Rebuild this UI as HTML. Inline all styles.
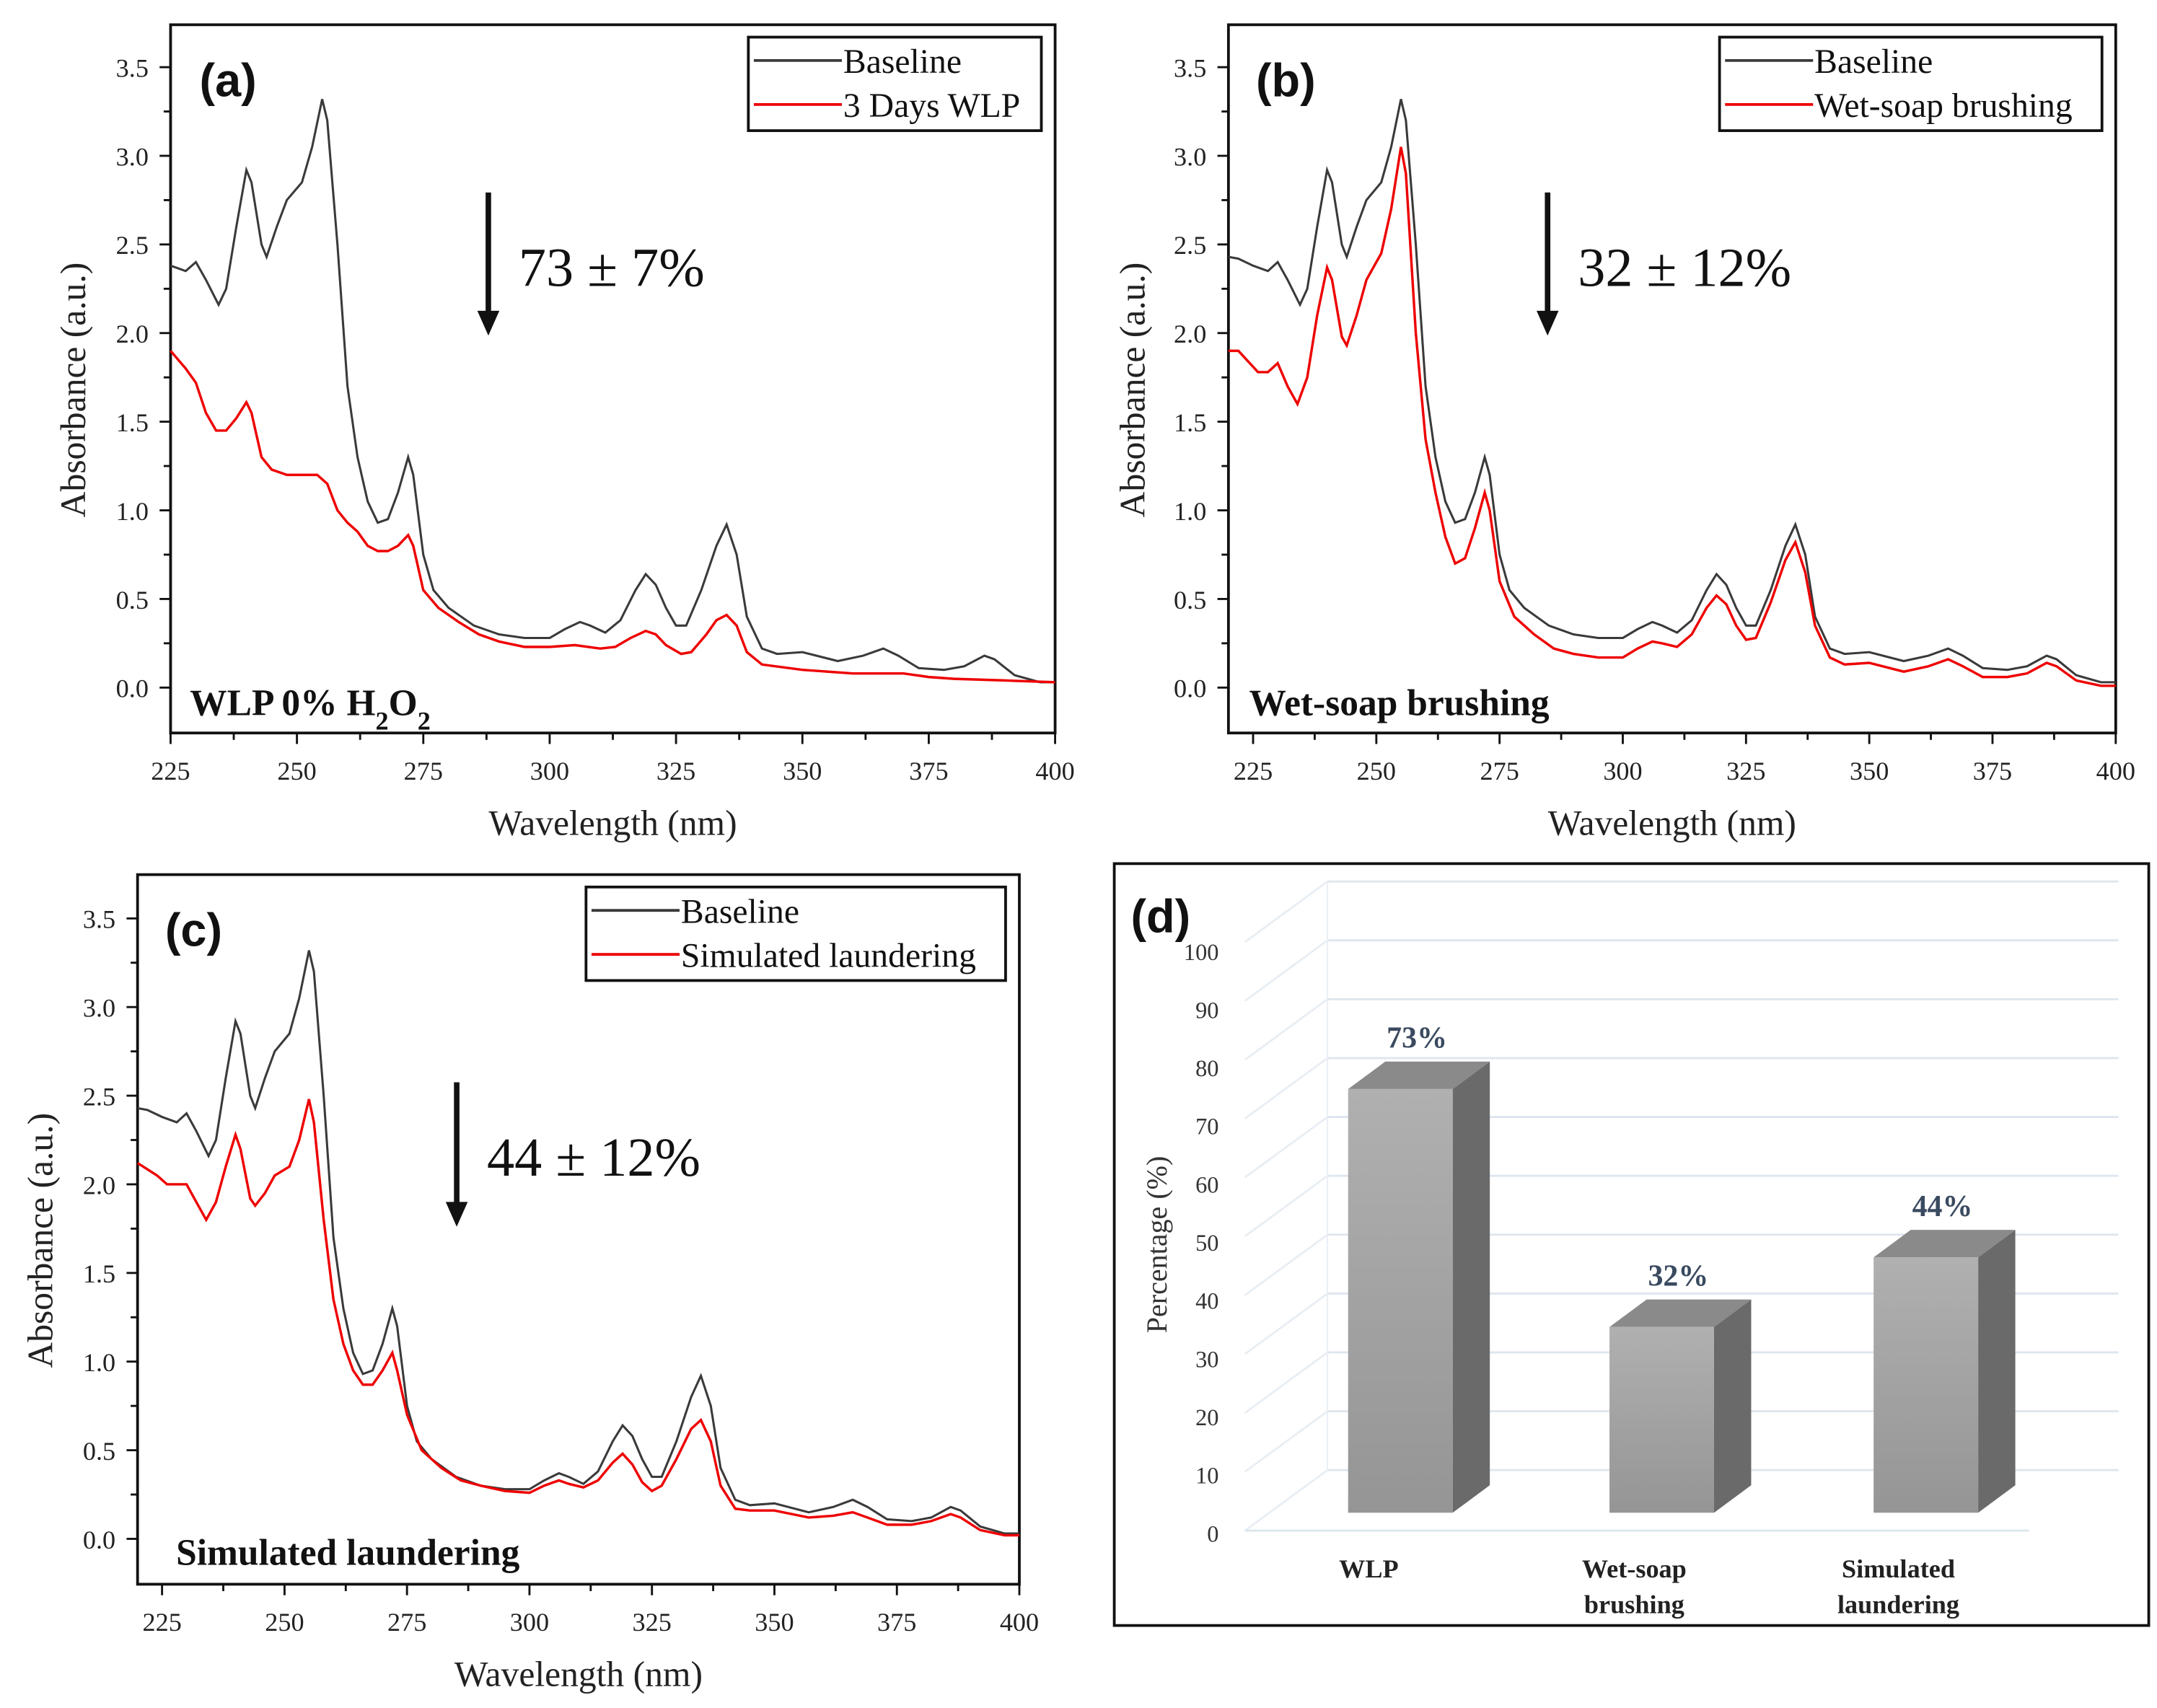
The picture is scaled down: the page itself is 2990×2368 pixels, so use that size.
<!DOCTYPE html>
<html><head><meta charset="utf-8">
<style>
html,body{margin:0;padding:0;background:#fff;}
svg{display:block;}
.tk{font-family:"Liberation Serif",serif;font-size:19px;fill:#222;}
.ax{font-family:"Liberation Serif",serif;font-size:26px;fill:#222;}
.lg{font-family:"Liberation Serif",serif;font-size:25px;fill:#111;}
.pl{font-family:"Liberation Sans",sans-serif;font-size:34px;font-weight:bold;fill:#111;}
.ann{font-family:"Liberation Serif",serif;font-size:40px;fill:#111;}
.bt{font-family:"Liberation Serif",serif;font-size:27px;font-weight:bold;fill:#111;}
.dt{font-family:"Liberation Serif",serif;font-size:17px;fill:#333;}
.dl{font-family:"Liberation Serif",serif;font-size:22px;font-weight:bold;fill:#3a4a60;}
.dc{font-family:"Liberation Serif",serif;font-size:19px;font-weight:bold;fill:#222;}
</style></head>
<body>
<svg id="fig" width="2990" height="2368" viewBox="0 0 1568 1242" preserveAspectRatio="none" xmlns="http://www.w3.org/2000/svg">
<rect width="1568" height="1242" fill="#fff"/>
</svg>
<script>
// ---- spectra data (wavelength nm, absorbance a.u.) ----
const baseWl = [220,222,225,228,230,232,234.5,236,238,240,241,243,244,246,248,251,253,255,256,258,260,262,264,266,268,270,272,273,275,277,280,285,290,295,300,303,306,308,311,314,317,319,321,323,325,327,330,333,335,337,339,342,345,350,357,362,366,369,373,378,382,386,388,392,397,400];
const baseAbs = [2.43,2.42,2.38,2.35,2.40,2.30,2.16,2.25,2.6,2.92,2.85,2.5,2.43,2.6,2.75,2.85,3.05,3.32,3.2,2.5,1.7,1.3,1.05,0.93,0.95,1.1,1.3,1.2,0.75,0.55,0.45,0.35,0.3,0.28,0.28,0.33,0.37,0.35,0.31,0.38,0.55,0.64,0.58,0.45,0.35,0.35,0.55,0.8,0.92,0.75,0.4,0.22,0.19,0.2,0.15,0.18,0.22,0.18,0.11,0.1,0.12,0.18,0.16,0.07,0.03,0.03];
const wlpWl = [225,228,230,232,234,236,238,240,241,243,245,248,252,254,256,258,260,262,264,266,268,270,272,273,275,278,282,286,290,295,300,305,310,313,316,319,321,323,326,328,331,333,335,337,339,342,350,360,370,375,380,390,400];
const wlpAbs = [1.9,1.8,1.72,1.55,1.45,1.45,1.52,1.61,1.55,1.3,1.23,1.2,1.2,1.2,1.15,1.0,0.93,0.88,0.8,0.77,0.77,0.8,0.86,0.8,0.55,0.45,0.37,0.3,0.26,0.23,0.23,0.24,0.22,0.23,0.28,0.32,0.3,0.24,0.19,0.2,0.3,0.38,0.41,0.35,0.2,0.13,0.1,0.08,0.08,0.06,0.05,0.04,0.03];
const wsWl = [220,222,226,228,230,232,234,236,238,240,241,243,244,246,248,251,253,255,256,258,260,262,264,266,268,270,272,273,275,278,282,286,290,295,300,303,306,308,311,314,317,319,321,323,325,327,330,333,335,337,339,342,345,350,357,362,366,369,373,378,382,386,388,392,397,400];
const wsAbs = [1.9,1.9,1.78,1.78,1.83,1.7,1.6,1.75,2.1,2.37,2.3,1.98,1.93,2.1,2.3,2.45,2.7,3.05,2.9,2.0,1.4,1.1,0.85,0.7,0.73,0.9,1.1,1.0,0.6,0.4,0.3,0.22,0.19,0.17,0.17,0.22,0.26,0.25,0.23,0.3,0.45,0.52,0.47,0.35,0.27,0.28,0.48,0.72,0.82,0.65,0.35,0.17,0.13,0.14,0.09,0.12,0.16,0.12,0.06,0.06,0.08,0.14,0.12,0.04,0.01,0.01];
const slWl = [220,224,226,228,230,232,234,236,238,240,241,243,244,246,248,251,253,255,256,258,260,262,264,266,268,270,272,273,275,278,282,286,290,295,300,303,306,308,311,314,317,319,321,323,325,327,330,333,335,337,339,342,345,350,357,362,366,369,373,378,382,386,388,392,397,400];
const slAbs = [2.12,2.05,2.0,2.0,2.0,1.9,1.8,1.9,2.1,2.28,2.2,1.92,1.88,1.95,2.05,2.1,2.25,2.48,2.35,1.8,1.35,1.1,0.95,0.87,0.87,0.95,1.05,0.95,0.7,0.5,0.4,0.33,0.3,0.27,0.26,0.3,0.33,0.31,0.29,0.33,0.43,0.48,0.42,0.32,0.27,0.3,0.45,0.62,0.67,0.55,0.3,0.17,0.16,0.16,0.12,0.13,0.15,0.12,0.08,0.08,0.1,0.14,0.12,0.05,0.02,0.02];
const xTicks = [225,250,275,300,325,350,375,400];
const yTicks = [0.0,0.5,1.0,1.5,2.0,2.5,3.0,3.5];
// ---- bar data ----
const barCats = [["WLP"],["Wet-soap","brushing"],["Simulated","laundering"]];
const barVals = [73,32,44];
const barLabels = ["73%","32%","44%"];
const pctTicks = [0,10,20,30,40,50,60,70,80,90,100];

const NS="http://www.w3.org/2000/svg";
const svg=document.getElementById('fig');
function mk(tag,attrs,parent){const e=document.createElementNS(NS,tag);for(const k in attrs)e.setAttribute(k,attrs[k]);(parent||svg).appendChild(e);return e;}
function txt(s,attrs,parent){const e=mk('text',attrs,parent);e.textContent=s;return e;}

function spectrum(o){
  const g=mk('g',{});
  
  
  const X=w=>o.x0+(w-o.w0)/(400-o.w0)*(o.x1-o.x0);
  const Y=v=>o.y0-v*o.ys;
  const fr=mk('rect',{x:o.x0,y:o.top,width:o.x1-o.x0,height:o.bot-o.top,fill:'none',stroke:'#111','stroke-width':2},g);
  
  
  for(let w=225; w<=400; w+=12.5){
    const maj=(w-225)%25===0;
    mk('line',{x1:X(w),x2:X(w),y1:o.bot,y2:o.bot+(maj?8:5),stroke:'#111','stroke-width':1.5},g);
  }
  xTicks.forEach(w=>{
    const t=txt(String(w),{x:X(w),y:o.bot+34,'text-anchor':'middle',class:'tk'},g);
    
    
  });
  for(let v=0; v<=3.51; v+=0.25){
    const maj=Math.round(v*4)%2===0;
    mk('line',{x1:o.x0,x2:o.x0-(maj?8:5),y1:Y(v),y2:Y(v),stroke:'#111','stroke-width':1.5},g);
  }
  yTicks.forEach(v=>{
    const t=txt(v.toFixed(1),{x:o.x0-16,y:Y(v)+7,'text-anchor':'end',class:'tk'},g);
    
    
  });
  const xt=txt('Wavelength (nm)',{x:(o.x0+o.x1)/2,y:o.bot+74,'text-anchor':'middle',class:'ax'},g);
  
  
  const yc=(o.top+o.bot)/2+8;
  const yt=txt('Absorbance (a.u.)',{x:0,y:0,'text-anchor':'middle',class:'ax',transform:`translate(${o.ytx},${yc}) rotate(-90)`},g);
  
  
  const path=(wl,ab)=>wl.filter(w=>w>=o.w0).map((w,i)=>{const j=wl.indexOf(w);return (i?'L':'M')+X(w).toFixed(1)+','+Y(ab[j]).toFixed(1);}).join('');
  const b=mk('path',{d:path(baseWl,baseAbs),fill:'none',stroke:'#3a3a3a','stroke-width':1.6},g);
  
  
  const r=mk('path',{d:path(o.rw,o.ra),fill:'none',stroke:'#ee0000','stroke-width':1.8},g);
  
  
  const lg=mk('g',{},g);
  
  
  mk('rect',{x:o.lx,y:o.ly,width:o.lw,height:68,fill:'#fff',stroke:'#111','stroke-width':2},lg);
  mk('line',{x1:o.lx+4,x2:o.lx+68,y1:o.ly+17,y2:o.ly+17,stroke:'#3a3a3a','stroke-width':2},lg);
  mk('line',{x1:o.lx+4,x2:o.lx+68,y1:o.ly+49,y2:o.ly+49,stroke:'#ee0000','stroke-width':2},lg);
  const l1=txt('Baseline',{x:o.lx+69,y:o.ly+26,class:'lg'},lg);
  
  
  const l2=txt(o.leg,{x:o.lx+69,y:o.ly+58,class:'lg'},lg);
  
  
  const pl=txt(o.pl,{x:o.plx,y:o.ply,class:'pl'},g);
  
  
  const ar=mk('g',{},g);
  
  
  mk('line',{x1:o.ax,x2:o.ax,y1:o.ay0,y2:o.ay1-14,stroke:'#111','stroke-width':4},ar);
  mk('polygon',{points:`${o.ax-8},${o.ay1-16} ${o.ax+8},${o.ay1-16} ${o.ax},${o.ay1+2}`,fill:'#111'},ar);
  const an=txt(o.ann,{x:o.ax+22,y:o.ay0+68,class:'ann'},g);
  
  
  const bt=mk('text',{x:o.btx,y:o.bty,class:'bt'},g);
  
  
  bt.innerHTML=o.bt;
}

spectrum({name:'panel-a',x0:124,x1:767,w0:225,top:18,bot:533,y0:500,ys:128.9,ytx:62,rw:wlpWl,ra:wlpAbs,
  lx:544,ly:27,lw:213,leg:'3 Days WLP',pl:'(a)',plx:145,ply:70,ax:355,ay0:140,ay1:242,ann:'73 ± 7%',
  btx:138,bty:520,bt:'WLP 0% H<tspan baseline-shift="sub" font-size="19">2</tspan>O<tspan baseline-shift="sub" font-size="19">2</tspan>'});
spectrum({name:'panel-b',x0:893,x1:1538,w0:220,top:18,bot:533,y0:500,ys:128.9,ytx:832,rw:wsWl,ra:wsAbs,
  lx:1250,ly:27,lw:278,leg:'Wet-soap brushing',pl:'(b)',plx:913,ply:70,ax:1125,ay0:140,ay1:242,ann:'32 ± 12%',
  btx:908,bty:520,bt:'Wet-soap brushing'});
spectrum({name:'panel-c',x0:100,x1:741,w0:220,top:636,bot:1152,y0:1119,ys:128.9,ytx:38,rw:slWl,ra:slAbs,
  lx:426,ly:645,lw:305,leg:'Simulated laundering',pl:'(c)',plx:120,ply:688,ax:332,ay0:787,ay1:890,ann:'44 ± 12%',
  btx:128,bty:1138,bt:'Simulated  laundering'});

// ---- panel d: 3D bar chart ----
(function(){
  const g=mk('g',{});
  
  
  const fr=mk('rect',{x:810,y:628,width:752,height:554,fill:'#fff',stroke:'#111','stroke-width':2},g);
  
  
  const base=1100, sc=4.22, dx=27, dy=-20;
  const gy=v=>1069-v*4.28;
  pctTicks.forEach(v=>{
    mk('line',{x1:965,x2:1540,y1:gy(v),y2:gy(v),stroke:'#dde6ee','stroke-width':1.5},g);
    mk('line',{x1:905,x2:965,y1:gy(v)+44,y2:gy(v),stroke:'#e8eef3','stroke-width':1.5},g);
    const t=txt(String(v),{x:886,y:1121-v*4.23,'text-anchor':'end',class:'dt'},g);
    
    
  });
  mk('line',{x1:905,x2:1475,y1:1113,y2:1113,stroke:'#dde6ee','stroke-width':1.5},g);
  mk('line',{x1:965,x2:965,y1:gy(100),y2:gy(0),stroke:'#e8eef3','stroke-width':1},g);
  const yt=txt('Percentage  (%)',{x:0,y:0,'text-anchor':'middle',class:'dt',style:'font-size:21px',transform:'translate(848,905) rotate(-90)'},g);
  
  
  const defs=mk('defs',{},g);
  const lgd=mk('linearGradient',{id:'fg',x1:0,y1:0,x2:0,y2:1},defs);
  mk('stop',{offset:'0','stop-color':'#b0b0b0'},lgd);mk('stop',{offset:'1','stop-color':'#959595'},lgd);
  const barX=[980,1170,1362], bw=76;
  barVals.forEach((v,i)=>{
    const x=barX[i], top=base-v*sc;
    const bg=mk('g',{},g);
    
    
    mk('polygon',{points:`${x+bw},${top} ${x+bw+dx},${top+dy} ${x+bw+dx},${base+dy} ${x+bw},${base}`,fill:'#6a6a6a'},bg);
    mk('polygon',{points:`${x},${top} ${x+dx},${top+dy} ${x+bw+dx},${top+dy} ${x+bw},${top}`,fill:'#8a8a8a'},bg);
    mk('rect',{x:x,y:top,width:bw,height:base-top,fill:'url(#fg)'},bg);
    const l=txt(barLabels[i],{x:x+bw/2+12,y:top+dy-10,'text-anchor':'middle',class:'dl'},g);
    
    
    barCats[i].forEach((s,k)=>{
      const c=txt(s,{x:x+bw/2-(i===0?23:20),y:1147+k*26,'text-anchor':'middle',class:'dc'},g);
      
      
    });
  });
  const pl=txt('(d)',{x:822,y:678,class:'pl'},g);
  
  
})();
</script>
</body></html>
